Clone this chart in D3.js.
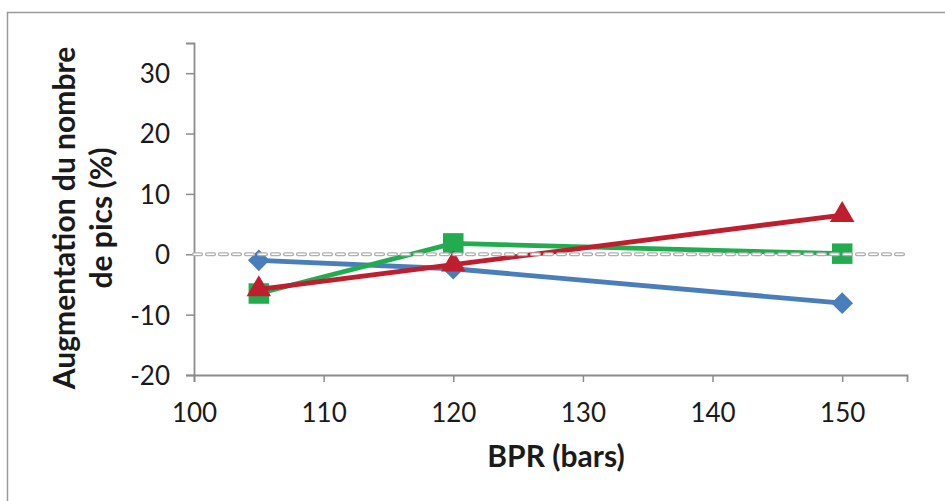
<!DOCTYPE html>
<html>
<head>
<meta charset="utf-8">
<script src="https://cdn.jsdelivr.net/npm/d3@7"></script>
<style>
  html, body { margin: 0; padding: 0; background: #fff; }
  svg { display: block; }
</style>
</head>
<body>
<svg id="chart" width="945" height="501"></svg>
<script>
// Pressure levels (BPR, bars)
const bpr = [105, 120, 150];
// Increase in number of peaks (%) for each series
const seriesBlue = [-1, -2.4, -8.1];
const seriesGreen = [-6.5, 1.8, 0.1];
const seriesRed = [-5.8, -1.7, 6.5];
// Axis ticks
const xTicks = [100, 110, 120, 130, 140, 150];
const yTicks = [-20, -10, 0, 10, 20, 30];

const svg = d3.select("#chart");
const font = "Lato, 'Open Sans', sans-serif";

// Outer frame
svg.append("rect")
  .attr("x", 7.5).attr("y", 12.5)
  .attr("width", 960).attr("height", 520)
  .attr("fill", "#fff").attr("stroke", "#9a9a9a").attr("stroke-width", 1.5);

const x = d3.scaleLinear().domain([100, 155]).range([194, 907]);
const y = d3.scaleLinear().domain([-20, 35]).range([375, 43]);

const axisColor = "#8c8c8c";
const plain = d => String(d);

// Y axis
const yAxis = svg.append("g").attr("transform", `translate(${x(100)},0)`)
  .call(d3.axisLeft(y).tickValues(yTicks).tickFormat(plain).tickSize(8).tickPadding(16));
// X axis
const xAxis = svg.append("g").attr("transform", `translate(0,${y(-20)})`)
  .call(d3.axisBottom(x).tickValues(xTicks).tickFormat(plain).tickSize(7));

[yAxis, xAxis].forEach(g => {
  g.select(".domain").attr("stroke", axisColor).attr("stroke-width", 1.8);
  g.selectAll(".tick line").attr("stroke", axisColor).attr("stroke-width", 1.5);
  g.selectAll(".tick text")
    .attr("fill", "#1a1a1a")
    .style("font-family", font)
    .style("font-size", "26px");
});
yAxis.selectAll(".tick text").attr("dy", "0.36em");
xAxis.selectAll(".tick text").attr("y", 47).attr("dy", 0);

// Axis titles
svg.append("text")
  .attr("x", 556).attr("y", 467)
  .attr("text-anchor", "middle")
  .style("font-family", font).style("font-size", "30px").style("font-weight", "bold")
  .attr("fill", "#1a1a1a")
  .text("BPR (bars)");

const yTitle = svg.append("text")
  .attr("transform", "translate(0,218) rotate(-90)")
  .attr("text-anchor", "middle")
  .style("font-family", font).style("font-size", "30px").style("font-weight", "bold")
  .attr("fill", "#1a1a1a");
yTitle.append("tspan").attr("x", 0).attr("y", 75).text("Augmentation du nombre");
yTitle.append("tspan").attr("x", 0).attr("y", 112).text("de pics (%)");

const line = d3.line().x((d, i) => x(bpr[i])).y(d => y(d));

function drawSeries(values, color, shape) {
  svg.append("path")
    .datum(values)
    .attr("d", line)
    .attr("fill", "none")
    .attr("stroke", color)
    .attr("stroke-width", 4.8)
    .attr("stroke-linejoin", "round");
  svg.append("g").selectAll("path")
    .data(values)
    .join("path")
    .attr("transform", (d, i) => `translate(${x(bpr[i])},${y(d)})`)
    .attr("d", d3.symbol().type(shape.type).size(shape.size))
    .attr("fill", color);
}

drawSeries(seriesBlue, "#4a7ebb", { type: d3.symbolDiamond2, size: 300 });
drawSeries(seriesGreen, "#21ad4f", { type: d3.symbolSquare, size: 420 });
drawSeries(seriesRed, "#be1e2d", { type: d3.symbolTriangle, size: 260 });

// Zero reference line: hollow gray dashes
const zeroLine = svg.append("g");
[["#b0b0b0", 4.2], ["#ffffff", 1.4]].forEach(([c, w]) => {
  zeroLine.append("line")
    .attr("x1", x(100)).attr("x2", x(155))
    .attr("y1", y(0)).attr("y2", y(0))
    .attr("stroke", c).attr("stroke-width", w)
    .attr("stroke-linecap", "round")
    .attr("stroke-dasharray", "7,6");
});
</script>
</body>
</html>
